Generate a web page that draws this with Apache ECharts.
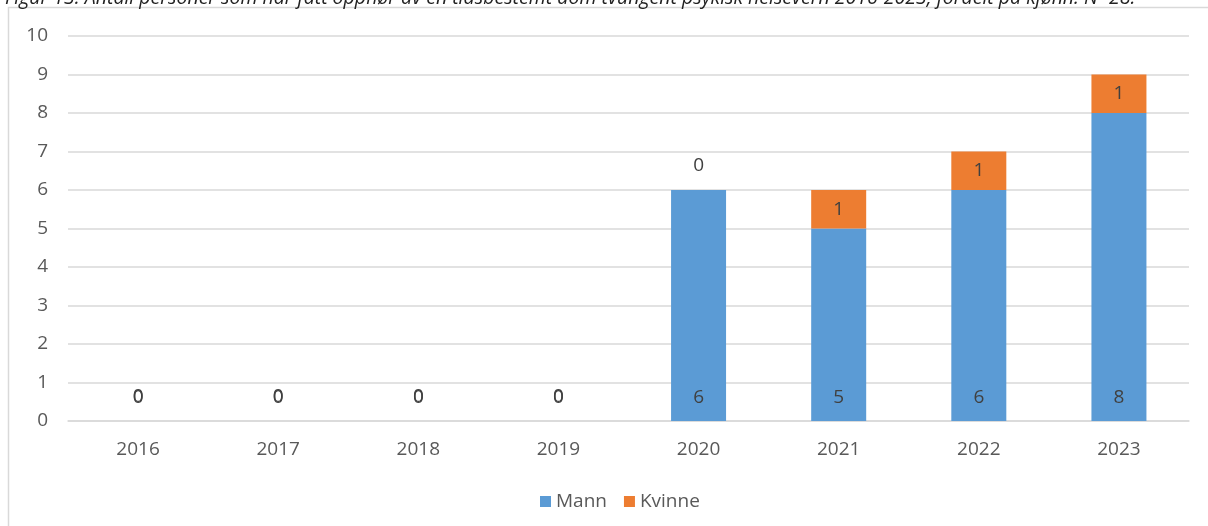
<!DOCTYPE html>
<html>
<head>
<meta charset="utf-8">
<script src="https://cdn.jsdelivr.net/npm/echarts@6/dist/echarts.min.js"></script>
<style>
html,body{margin:0;padding:0;background:#fff;}
#c{width:1208px;height:526px;}
</style>
</head>
<body>
<div id="c"></div>
<script>
const titleText = "Figur 13: Antall personer som har fått opphør av en tidsbestemt dom tvungent psykisk helsevern 2016-2023, fordelt på kjønn. N=28.";
const categories = ["2016","2017","2018","2019","2020","2021","2022","2023"];
const mann = [0,0,0,0,6,5,6,8];
const kvinne = [0,0,0,0,0,1,1,1];
const yTicks = {min:0, max:10, interval:1};

const FONT = "'Open Sans', sans-serif";
const chart = echarts.init(document.getElementById('c'));

const kvinneData = kvinne.map(v => ({
  value: v,
  label: v === 0 ? {position:'top', distance:15} : {position:'inside'}
}));

chart.setOption({
  backgroundColor:'#fff',
  animation:false,
  textStyle:{fontFamily:FONT},
  title:{
    text:titleText, left:0, top:-17,
    textStyle:{fontFamily:FONT, fontSize:19.5, fontStyle:'italic', fontWeight:'normal', color:'#222'}
  },
  graphic:[{
    type:'rect', silent:true, z:-1,
    shape:{x:8.5, y:7.5, width:1210, height:530},
    style:{fill:'none', stroke:'#d9d9d9', lineWidth:1.5}
  }],
  legend:{
    data:['Mann','Kvinne'], top:487, left:535,
    itemWidth:11, itemHeight:11, itemGap:17, icon:'rect',
    textStyle:{fontFamily:FONT, fontSize:19, color:'#595959'}
  },
  grid:{left:68, right:19, top:36, bottom:105},
  xAxis:{
    type:'category', data:categories,
    axisLine:{lineStyle:{color:'#d9d9d9', width:1.5}},
    axisTick:{show:false},
    axisLabel:{fontFamily:FONT, fontSize:19, color:'#595959', margin:19}
  },
  yAxis:{
    type:'value', min:yTicks.min, max:yTicks.max, interval:yTicks.interval,
    axisLine:{show:false}, axisTick:{show:false},
    splitLine:{lineStyle:{color:'#d9d9d9', width:1.5}},
    axisLabel:{fontFamily:FONT, fontSize:19, color:'#595959', margin:20}
  },
  series:[
    {
      name:'Mann', type:'bar', stack:'s', data:mann, barWidth:55,
      itemStyle:{color:'#5B9BD5'},
      label:{show:true, position:'insideBottom', distance:14, fontFamily:FONT, fontSize:19, color:'#404040'}
    },
    {
      name:'Kvinne', type:'bar', stack:'s', data:kvinneData, barWidth:55,
      itemStyle:{color:'#ED7D31'},
      label:{show:true, fontFamily:FONT, fontSize:19, color:'#404040'}
    }
  ]
});
</script>
</body>
</html>
